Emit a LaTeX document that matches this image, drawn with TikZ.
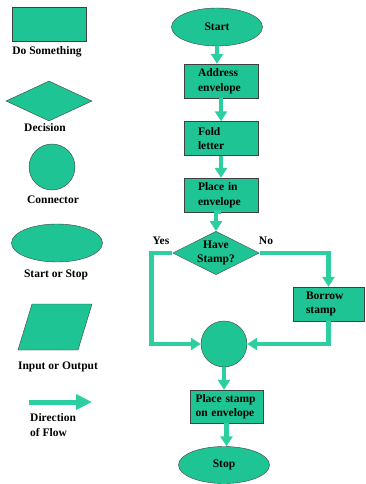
\documentclass[tikz,border=0pt]{standalone}
\usepackage{fontspec}
\setmainfont{Liberation Serif}
\usetikzlibrary{shapes.geometric,arrows.meta}
\definecolor{flowfill}{RGB}{31,196,148}
\definecolor{flowline}{RGB}{45,206,160}
\tikzset{
  txt/.style={font=\fontsize{11.5}{14.5}\selectfont\bfseries},
  box/.style={txt, rectangle, draw=black!75, fill=flowfill, minimum width=74pt, minimum height=34pt, text width=46pt, align=left, inner sep=2pt},
  term/.style={txt, ellipse, draw=black!75, fill=flowfill, minimum width=91pt, minimum height=38pt, inner sep=0pt},
  decide/.style={txt, diamond, draw=black!75, fill=flowfill, aspect=2, minimum width=86pt, minimum height=41pt, inner sep=0pt, align=center},
  joint/.style={circle, draw=black!75, fill=flowfill, minimum size=46pt, inner sep=0pt},
  flow/.style={draw=flowline, line width=4.5pt, -{Triangle[length=10pt,width=12pt]}},
}
\begin{document}
\begin{tikzpicture}[x=1pt,y=-1pt]
  \useasboundingbox (0,0) rectangle (365,484);

  % Legend
  \node[box, minimum width=74pt, text width=40pt] (keybox) at (49,24) {};
  \node[txt] (keyboxlbl) at (47,52) {Do Something};
  \node[decide, minimum width=86pt, minimum height=40pt] (keydec) at (49,101) {};
  \node[txt] (keydeclbl) at (45,128) {Decision};
  \node[joint] (keyjoint) at (52,167) {};
  \node[txt] (keyjointlbl) at (53,200) {Connector};
  \node[term] (keyterm) at (57,243) {};
  \node[txt] (keytermlbl) at (56,275) {Start or Stop};
  \draw[draw=black!75, fill=flowfill] (32,304) -- (92,304) -- (78,350) -- (18,350) -- cycle;
  \node[txt] (keyiolbl) at (58,367) {Input or Output};
  \coordinate (keyflowa) at (29,402);
  \coordinate (keyflowb) at (92,402);
  \draw[draw=flowline, line width=5pt, -{Triangle[length=16pt,width=15pt]}] (keyflowa) -- (keyflowb);
  \node[txt, anchor=west, align=left, inner sep=0pt] (keyflowlbl) at (30,425) {Direction\\of Flow};

  % Main flow
  \node[term] (start) at (217,27) {Start};
  \node[box] (addr) at (221,81) {Address\\envelope};
  \node[box] (fold) at (221,138.5) {Fold\\letter};
  \node[box] (place) at (221,195) {Place in\\envelope};
  \node[decide] (have) at (216,253) {Have\\Stamp?};
  \node[box, minimum width=71pt, text width=45pt] (borrow) at (328.5,304) {Borrow\\stamp};
  \node[joint] (join) at (224,344) {};
  \node[box, minimum width=73pt, minimum height=33pt, text width=62pt] (stamp) at (226.5,406.5) {Place stamp\\on envelope};
  \node[term, minimum height=37pt] (stop) at (224,465) {Stop};
  \node[txt] (yes) at (161,241) {Yes};
  \node[txt] (no) at (266,241) {No};

  % Connectors
  \draw[flow] (start.south) -- (start.south |- addr.north);
  \draw[flow] (addr) -- (fold);
  \draw[flow] (fold) -- (place);
  \draw[flow] (place.south) -- (place.south -| have.north) -- (have.north);
  \draw[flow] (have.west) -- ++(-21,0) |- (join.west);
  \draw[flow] (have.east) -| (borrow.north);
  \draw[flow] (borrow.south) |- (join.east);
  \draw[flow] (join.south) -- (join.south |- stamp.north);
  \draw[flow] (stamp.south) -- (stamp.south |- stop.north);
\end{tikzpicture}
\end{document}
